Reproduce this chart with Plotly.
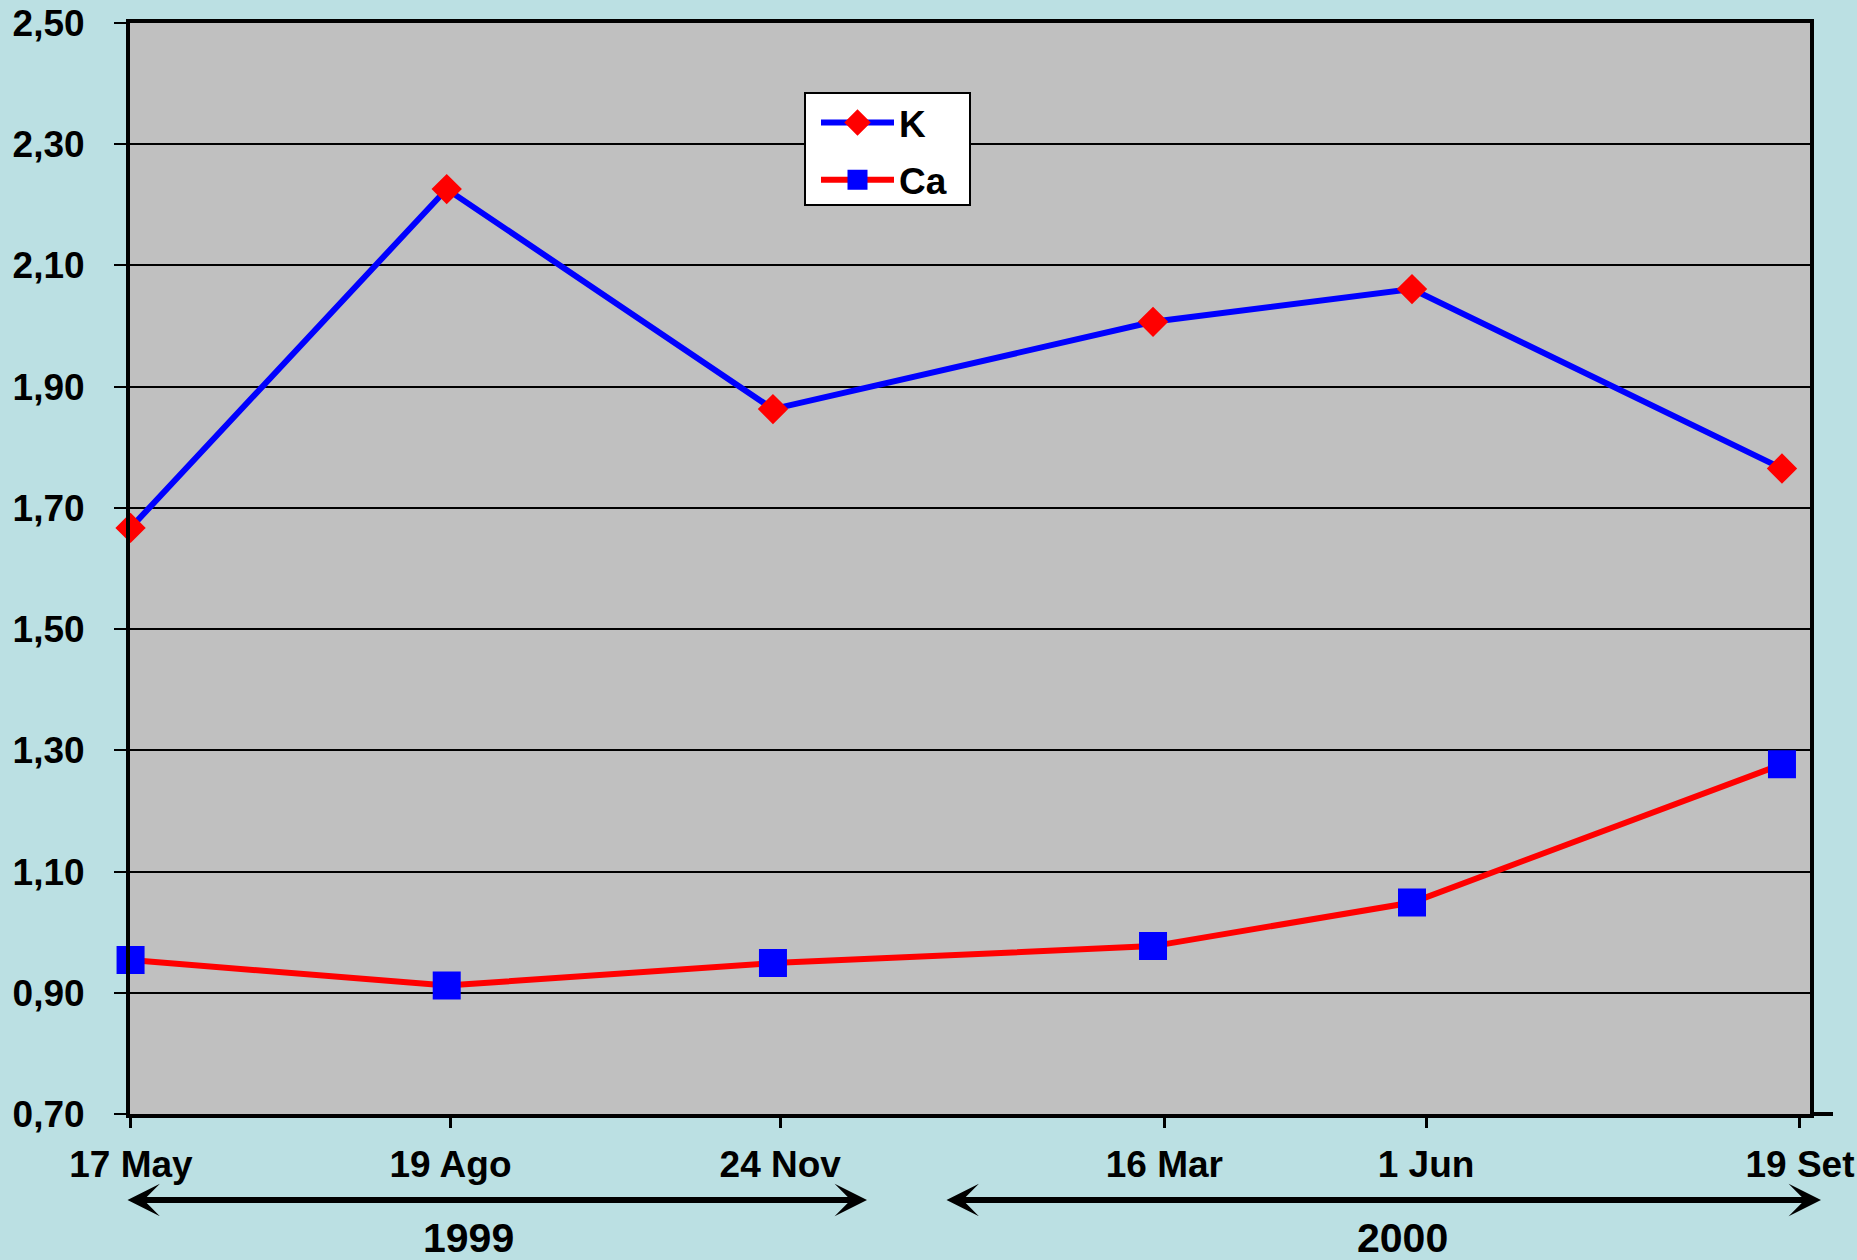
import pandas as pd
import plotly.graph_objects as go

# Sampling dates and their axis labels
dates = ["1999-05-17", "1999-08-19", "1999-11-24", "2000-03-16", "2000-06-01", "2000-09-19"]
tick_labels = ["17 May", "19 Ago", "24 Nov", "16 Mar", "1 Jun", "19 Set"]

# Concentrations per series
k_values = [1.667, 2.226, 1.863, 2.007, 2.061, 1.765]
ca_values = [0.954, 0.912, 0.949, 0.977, 1.049, 1.277]

year_labels = ["1999", "2000"]

PAPER_BG = "#BBE0E3"
PLOT_BG = "#C0C0C0"
FONT = "Liberation Sans, Arial, sans-serif"

W, H = 1857, 1260
ML, MR, MT, MB = 130, 47, 23, 146
PW = W - ML - MR
PH = H - MT - MB


def px_x(px):
    return (px - ML) / PW


def px_y(py):
    return (H - MB - py) / PH


fig = go.Figure()

fig.add_trace(go.Scatter(
    x=dates, y=k_values, name="K", mode="lines+markers",
    line=dict(color="#0000FF", width=6),
    marker=dict(symbol="diamond", size=19, color="#FF0000",
                line=dict(color="#FF0000", width=4)),
    cliponaxis=False, legendgroup="k",
))
fig.add_trace(go.Scatter(
    x=dates, y=ca_values, name="Ca", mode="lines+markers",
    line=dict(color="#FF0000", width=6),
    marker=dict(symbol="square", size=24, color="#0000FF",
                line=dict(color="#0000FF", width=4)),
    cliponaxis=False, legendgroup="ca",
))
# carrier for the labelled date axis (no visible marks)
fig.add_trace(go.Scatter(
    x=dates, y=[None] * len(dates), xaxis="x2", mode="markers",
    showlegend=False, hoverinfo="skip",
))

d0 = pd.Timestamp(dates[0])
d1 = pd.Timestamp(dates[-1])

# data axis: the plotted points
data_range = [d0 - pd.Timedelta(hours=4), d1 + pd.Timedelta(hours=200)]
# labelled date axis overlaid on the same plot area
tick_range = [d0 - pd.Timedelta(hours=7), d1 + pd.Timedelta(hours=71)]

tick_font = dict(family=FONT, size=37, color="black", weight="bold")

fig.update_layout(
    width=W, height=H,
    margin=dict(l=ML, r=MR, t=MT, b=MB, autoexpand=False),
    paper_bgcolor=PAPER_BG,
    plot_bgcolor=PLOT_BG,
    separators=",.",
    font=dict(family=FONT, color="black"),
    xaxis=dict(
        type="date", range=data_range,
        showline=True, linecolor="black", linewidth=4, mirror=True,
        showgrid=False, zeroline=False, ticks="", showticklabels=False,
        automargin=False,
    ),
    xaxis2=dict(
        type="date", range=tick_range, overlaying="x", anchor="y", side="bottom",
        tickmode="array", tickvals=dates, ticktext=tick_labels,
        ticks="outside", ticklen=13, tickwidth=3, tickcolor="black",
        showline=False, showgrid=False, zeroline=False,
        tickfont=tick_font, ticklabelstandoff=5, automargin=False,
    ),
    yaxis=dict(
        range=[0.7, 2.5], tick0=0.7, dtick=0.2, tickformat=".2f",
        showgrid=True, gridcolor="black", gridwidth=2,
        showline=True, linecolor="black", linewidth=4, mirror=True,
        ticks="outside", ticklen=12, tickwidth=2, tickcolor="black",
        zeroline=False, tickfont=tick_font, ticklabelstandoff=22,
        automargin=False,
    ),
    legend=dict(
        x=px_x(816), y=px_y(92), xanchor="left", yanchor="top",
        bgcolor="rgba(0,0,0,0)", borderwidth=0,
        font=dict(family=FONT, size=37, color="black", weight="bold"),
        itemwidth=73, tracegroupgap=6,
    ),
    showlegend=True,
)

# white framed box behind the legend entries
fig.add_shape(type="rect", xref="paper", yref="paper", layer="above",
              x0=px_x(805), x1=px_x(970), y0=px_y(205), y1=px_y(93),
              fillcolor="white", line=dict(color="black", width=2))

# x-axis line continues a little past the right border
fig.add_shape(type="line", xref="paper", yref="paper",
              x0=1, x1=px_x(1833), y0=0, y1=0,
              line=dict(color="black", width=4))

# double-headed arrows spanning each year, with the year centred below
spans = [(126, 867, 468, year_labels[0]), (945, 1821, 1402, year_labels[1])]
for left, right, centre, label in spans:
    fig.add_annotation(
        xref="paper", yref="paper", x=px_x(right), y=px_y(1200),
        axref="pixel", ayref="pixel", ax=-(right - left), ay=0,
        text="", showarrow=True, arrowside="end+start",
        arrowhead=3, startarrowhead=3, arrowwidth=6,
        arrowsize=0.9, startarrowsize=0.9, arrowcolor="black",
        standoff=0, startstandoff=0,
    )
    fig.add_annotation(
        xref="paper", yref="paper", x=px_x(centre), y=px_y(1238),
        text=label, showarrow=False, xanchor="center", yanchor="middle",
        font=dict(family=FONT, size=41, color="black", weight="bold"),
    )

fig.write_html("out.html")
